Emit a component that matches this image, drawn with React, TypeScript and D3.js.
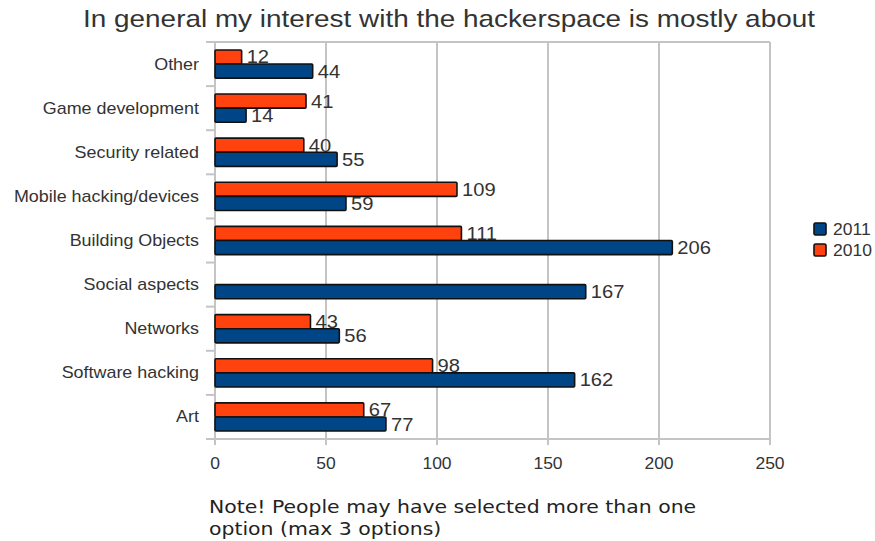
import React from "react";
import * as d3 from "d3";

const categories = [
  "Other",
  "Game development",
  "Security related",
  "Mobile hacking/devices",
  "Building Objects",
  "Social aspects",
  "Networks",
  "Software hacking",
  "Art",
];
const values2010: (number | null)[] = [12, 41, 40, 109, 111, null, 43, 98, 67];
const values2011: number[] = [44, 14, 55, 59, 206, 167, 56, 162, 77];
const seriesNames = ["2010", "2011"];
const seriesColors = ["#ff420e", "#004586"];
const xTicks = [0, 50, 100, 150, 200, 250];
const title = "In general my interest with the hackerspace is mostly about";
const noteLines = ["Note! People may have selected more than one", "option (max 3 options)"];

const W = 875;
const H = 541;
const left = 215;
const right = 770;
const top = 42;
const bottom = 439;
const font = "'Liberation Sans', Arial, sans-serif";
const txt = "#333333";

function SText(props: {
  x: number;
  y: number;
  sx: number;
  size: number;
  anchor?: string;
  family?: string;
  fill?: string;
  children: React.ReactNode;
}) {
  const { x, y, sx, size, anchor = "start", family = font, fill = txt, children } = props;
  return (
    <g transform={`translate(${x},${y}) scale(${sx},1)`}>
      <text x={0} y={0} textAnchor={anchor} fontFamily={family} fontSize={size} fill={fill}>
        {children}
      </text>
    </g>
  );
}

export default function App() {
  const x = d3.scaleLinear().domain([0, 250]).range([left, right]);
  const y = d3.scaleBand<string>().domain(categories).range([top, bottom]).padding(0);
  const bw = y.bandwidth();
  const inner = d3.scaleBand<string>().domain(seriesNames).range([bw * 0.18, bw * 0.82]).padding(0);
  const grid = "#c4c4c4";
  const series = [values2010, values2011];

  return (
    <div style={{ position: "absolute", left: 0, top: 0 }}>
      <svg width={W} height={H} style={{ display: "block", background: "#fff" }}>
        <rect x={0} y={0} width={W} height={H} fill="#fff" />
        <SText x={449} y={27} sx={1.163} size={24} anchor="middle">
          {title}
        </SText>
        {/* gridlines */}
        {xTicks.map((t) => (
          <line key={"g" + t} x1={x(t)} x2={x(t)} y1={top} y2={bottom + 6} stroke={grid} strokeWidth={2} />
        ))}
        <line x1={left - 9} x2={right} y1={top} y2={top} stroke={grid} strokeWidth={2} />
        <line x1={left - 9} x2={right} y1={bottom} y2={bottom} stroke={grid} strokeWidth={2} />
        {categories.map((c, i) =>
          i === 0 ? null : (
            <line key={"yt" + c} x1={left - 9} x2={left} y1={y(c)!} y2={y(c)!} stroke={grid} strokeWidth={2} />
          )
        )}
        {/* x tick labels */}
        {xTicks.map((t) => (
          <SText key={"xl" + t} x={x(t)} y={469} sx={1.03} size={17} anchor="middle">
            {t}
          </SText>
        ))}
        {/* category labels */}
        {categories.map((c) => (
          <SText key={"cl" + c} x={199} y={y(c)! + bw / 2 + 5.5} sx={1.12} size={16} anchor="end">
            {c}
          </SText>
        ))}
        {/* bars */}
        {categories.map((c, i) =>
          series.map((vals, s) => {
            const v = vals[i];
            if (v === null || v === undefined) return null;
            const by = y(c)! + inner(seriesNames[s])!;
            const bh = inner.bandwidth();
            return (
              <g key={c + s}>
                <rect
                  x={x(0)}
                  y={by}
                  width={x(v) - x(0)}
                  height={bh}
                  fill={seriesColors[s]}
                  stroke="#111"
                  strokeWidth={1.6}
                  rx={1}
                />
                <SText x={x(v) + 5} y={by + bh / 2 + 6.5} sx={1.12} size={18}>
                  {v}
                </SText>
              </g>
            );
          })
        )}
        {/* legend */}
        {[1, 0].map((s, k) => (
          <g key={"lg" + s}>
            <rect
              x={814}
              y={223 + k * 21}
              width={12}
              height={12}
              fill={seriesColors[s]}
              stroke="#111"
              strokeWidth={1.6}
              rx={1.5}
            />
            <SText x={833} y={235 + k * 21} sx={1.03} size={17}>
              {seriesNames[s]}
            </SText>
          </g>
        ))}
        {/* note */}
        {noteLines.map((l, i) => (
          <SText key={"n" + i} x={209} y={513 + i * 22} sx={1.2} size={17} family="'DejaVu Sans', sans-serif" fill="#222">
            {l}
          </SText>
        ))}
      </svg>
    </div>
  );
}
